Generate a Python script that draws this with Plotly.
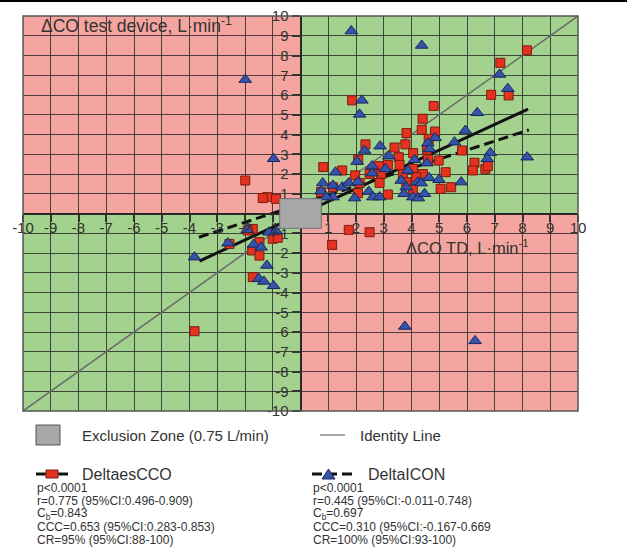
import plotly.graph_objects as go

# ---------------- data ----------------
CCO_X = [8.16, 7.2, 6.87, 7.5, 1.86, 4.8, 4.4, 4.37, 4.85, 3.82, 4.62, 3.78, 2.34, 3.39, 4.06, 4.56,
         5.82, 3.54, 2.08, 0.82, 1.5, 3.15, 2.82, 3.57, 4.98, 4.59, 6.27, 6.21, 6.66, 6.75, 5.23, 4.41,
         4.05, 1.97, 2.49, 2.91, 3.69, 4.17, 2.85, 2.13, 3.81, 5.05, 5.43, 4.05, 3.15, 2.07, 1.17, 0.74,
         1.74, 2.49, 1.14,
         -1.99, -1.2, -0.88, -1.36,
         -1.72, -1.9, -2.56, -1.74, -1.48, -1.48, -1.0, -0.82, -1.72, -3.82]
CCO_Y = [8.26, 7.63, 6.01, 5.98, 5.73, 5.44, 4.8, 4.24, 4.15, 4.07, 3.78, 3.5, 3.5, 3.34, 3.06, 3.23,
         3.19, 2.85, 2.72, 2.35, 2.18, 2.46, 2.4, 2.46, 2.68, 2.74, 2.57, 2.18, 2.26, 2.4, 2.09, 2.0,
         2.26, 1.93, 2.0, 2.0, 2.0, 1.84, 1.55, 1.54, 1.59, 1.25, 1.33, 1.2, 0.96, 1.03, 1.33, 1.08,
         -0.83, -0.95, -1.59,
         1.67, 0.83, 0.74, 0.78,
         -0.78, -0.86, -1.54, -1.87, -1.45, -2.13, -1.28, -1.23, -3.22, -5.96]

ICON_X = [1.83, 4.37, 7.17, 7.47, 2.21, 2.13, 6.37, 5.94, 4.85, 4.59, 5.55, 4.65, 2.87, 2.31, 3.18,
          6.84, 6.73, 8.17, 2.04, 2.58, 1.26, 2.58, 3.06, 4.11, 4.56, 3.87, 3.63, 4.23, 4.35, 4.63,
          4.99, 5.79, 3.81, 2.46, 1.95, 2.61, 2.85, 3.73, 4.05, 4.25, 4.47, 0.8, 0.74, 1.17, 1.5,
          1.74, 2.07, 1.17, 0.93,
          -1.99, -0.97,
          3.76, 6.29,
          -1.92, -2.61, -1.69, -1.42, -1.14, -0.88, -3.82, -1.21, -1.5, -1.32, -0.97]
ICON_Y = [9.24, 8.51, 7.04, 6.32, 5.73, 5.02, 5.1, 4.2, 3.83, 3.56, 3.61, 3.27, 3.41, 3.19, 2.9,
          3.07, 2.77, 2.85, 2.63, 2.4, 2.09, 2.04, 2.26, 2.72, 2.55, 2.18, 1.67, 1.59, 1.54, 1.81,
          1.71, 1.59, 1.33, 1.11, 0.78, 0.83, 0.83, 1.0, 0.83, 0.78, 1.0, 1.54, 1.13, 1.42, 1.33,
          1.54, 1.59, 0.83, 0.83,
          6.78, 2.77,
          -5.72, -6.45,
          -0.83, -1.5, -1.57, -1.71, -0.95, -0.9, -2.21, -2.63, -3.3, -3.44, -3.66]

# regression fits: slope, intercept, x-extent
CCO_FIT = dict(slope=0.65, intercept=-0.04, xmin=-3.64, xmax=8.2)
ICON_FIT = dict(slope=0.457, intercept=0.47, xmin=-3.66, xmax=8.23)

AXIS_MIN, AXIS_MAX = -10, 10
TICK_VALUES = [v for v in range(-10, 11) if v != 0]
TICK_LABELS = [str(v) for v in TICK_VALUES]
EXCLUSION = 0.75

STATS_CCO = ["p<0.0001", "r=0.775 (95%CI:0.496-0.909)", "C<sub>b</sub>=0.843",
             "CCC=0.653 (95%CI:0.283-0.853)", "CR=95% (95%CI:88-100)"]
STATS_ICON = ["p<0.0001", "r=0.445 (95%CI:-0.011-0.748)", "C<sub>b</sub>=0.697",
              "CCC=0.310 (95%CI:-0.167-0.669", "CR=100% (95%CI:93-100)"]

# ---------------- style ----------------
W, H = 627, 554
ML, MR, MT, MB = 23, 49, 16, 143
PW, PH = W - ML - MR, H - MT - MB
FONT = "Liberation Sans, Arial, sans-serif"
TXT = "#333333"
PINK = "#F5A59F"
GREEN = "#A3D18E"
RED = "#E5321F"
RED_EDGE = "#7A1D12"
BLUE = "#3553A8"
BLUE_EDGE = "#17275E"
GRID = "rgba(35,35,35,0.8)"


def px(x):
    return (x - ML) / PW


def py(y):
    return (MT + PH - y) / PH


fig = go.Figure()

# identity line
fig.add_trace(go.Scatter(x=[AXIS_MIN, AXIS_MAX], y=[AXIS_MIN, AXIS_MAX], mode="lines",
                         line=dict(color="#6A6A6A", width=1.5), showlegend=False, hoverinfo="skip"))


def fit_line(f):
    xs = [f["xmin"], f["xmax"]]
    return xs, [f["slope"] * v + f["intercept"] for v in xs]


fx, fy = fit_line(CCO_FIT)
fig.add_trace(go.Scatter(x=fx, y=fy, mode="lines", line=dict(color="#111111", width=3),
                         showlegend=False, hoverinfo="skip"))
fx, fy = fit_line(ICON_FIT)
fig.add_trace(go.Scatter(x=fx, y=fy, mode="lines",
                         line=dict(color="#111111", width=3, dash="10px,5px"),
                         showlegend=False, hoverinfo="skip"))

fig.add_trace(go.Scatter(x=CCO_X, y=CCO_Y, mode="markers", name="DeltaesCCO",
                         marker=dict(symbol="square", size=9, color=RED,
                                     line=dict(color=RED_EDGE, width=1)),
                         showlegend=False))
fig.add_trace(go.Scatter(x=ICON_X, y=ICON_Y, mode="markers", name="DeltaICON",
                         marker=dict(symbol="triangle-up", size=11, color=BLUE,
                                     line=dict(color=BLUE_EDGE, width=1)),
                         showlegend=False))

shapes = [
    # quadrants
    dict(type="rect", xref="x", yref="y", x0=0, x1=AXIS_MAX, y0=0, y1=AXIS_MAX,
         fillcolor=GREEN, line_width=0, layer="below"),
    dict(type="rect", xref="x", yref="y", x0=AXIS_MIN, x1=0, y0=AXIS_MIN, y1=0,
         fillcolor=GREEN, line_width=0, layer="below"),
    # exclusion zone
    dict(type="rect", xref="x", yref="y", x0=-EXCLUSION, x1=EXCLUSION, y0=-EXCLUSION, y1=EXCLUSION,
         fillcolor="#A8A8A8", line=dict(color="#707070", width=1), layer="above"),
    # plot border
    dict(type="rect", xref="paper", yref="paper", x0=0, x1=1, y0=0, y1=1,
         line=dict(color="#555555", width=1.5), layer="above"),
    # top rule
    dict(type="line", xref="paper", yref="paper", x0=px(0), x1=px(W), y0=py(1), y1=py(1),
         line=dict(color="#000000", width=2)),
    # legend: exclusion zone
    dict(type="rect", xref="paper", yref="paper", x0=px(36), x1=px(60), y0=py(445), y1=py(425),
         fillcolor="#A8A8A8", line=dict(color="#555555", width=1)),
    # legend: identity
    dict(type="line", xref="paper", yref="paper", x0=px(320), x1=px(345), y0=py(435), y1=py(435),
         line=dict(color="#6A6A6A", width=1.2)),
    # legend: DeltaesCCO
    dict(type="line", xref="paper", yref="paper", x0=px(36), x1=px(68), y0=py(474), y1=py(474),
         line=dict(color="#111111", width=3)),
    dict(type="rect", xref="paper", yref="paper", x0=px(46), x1=px(58), y0=py(478), y1=py(470),
         fillcolor=RED, line=dict(color=RED_EDGE, width=1)),
    # legend: DeltaICON
    dict(type="line", xref="paper", yref="paper", x0=px(312), x1=px(357), y0=py(474), y1=py(474),
         line=dict(color="#111111", width=3, dash="10px,5px")),
    dict(type="path", xref="paper", yref="paper",
         path=f"M {px(322)},{py(479)} L {px(335)},{py(479)} L {px(328.5)},{py(469)} Z",
         fillcolor=BLUE, line=dict(color=BLUE_EDGE, width=1)),
]

annotations = [
    dict(x=-9.42, y=9.52, xref="x", yref="y", text="ΔCO test device, L·min<sup>-1</sup>",
         showarrow=False, xanchor="left", yanchor="middle", font=dict(size=17.5, color=TXT)),
    dict(x=3.78, y=-1.7, xref="x", yref="y", text="ΔCO TD, L·min<sup>-1</sup>",
         showarrow=False, xanchor="left", yanchor="middle", font=dict(size=16.5, color=TXT),
         borderpad=0),
    dict(x=px(80), y=py(435), xref="paper", yref="paper", text="Exclusion Zone (0.75 L/min)",
         showarrow=False, xanchor="left", yanchor="middle", font=dict(size=15, color=TXT)),
    dict(x=px(358), y=py(435), xref="paper", yref="paper", text="Identity Line",
         showarrow=False, xanchor="left", yanchor="middle", font=dict(size=15, color=TXT)),
    dict(x=px(80), y=py(474), xref="paper", yref="paper", text="DeltaesCCO",
         showarrow=False, xanchor="left", yanchor="middle", font=dict(size=16, color=TXT)),
    dict(x=px(366), y=py(474), xref="paper", yref="paper", text="DeltaICON",
         showarrow=False, xanchor="left", yanchor="middle", font=dict(size=16, color=TXT)),
]
STAT_Y = [488, 501, 514, 527, 540]
for lines, x0 in ((STATS_CCO, 36), (STATS_ICON, 312)):
    for t, yy in zip(lines, STAT_Y):
        annotations.append(dict(x=px(x0), y=py(yy), xref="paper", yref="paper", text=t,
                                showarrow=False, xanchor="left", yanchor="middle", borderpad=0,
                                font=dict(size=12, color=TXT)))

axis_common = dict(range=[AXIS_MIN, AXIS_MAX], tickmode="array", tickvals=TICK_VALUES,
                   ticktext=TICK_LABELS, showgrid=True, gridcolor=GRID, gridwidth=1.2,
                   zeroline=False, showline=True, linecolor="#2a2a2a", linewidth=2,
                   ticks="outside", tickwidth=1.5, tickcolor="#333333",
                   tickfont=dict(size=15, color=TXT, family=FONT),
                   anchor="free", position=0.5, fixedrange=True, automargin=False)

fig.update_layout(
    width=W, height=H,
    margin=dict(l=ML, r=MR, t=MT, b=MB, pad=0, autoexpand=False),
    paper_bgcolor="white", plot_bgcolor=PINK,
    font=dict(family=FONT, color=TXT),
    xaxis=dict(**axis_common, ticklen=7, ticklabelstandoff=-7),
    yaxis=dict(**axis_common, ticklen=8),
    shapes=shapes, annotations=annotations,
    showlegend=False,
)

fig.write_html("out.html", config=dict(displayModeBar=False),
               post_script="document.body.style.margin='0';document.body.style.overflow='hidden';")
